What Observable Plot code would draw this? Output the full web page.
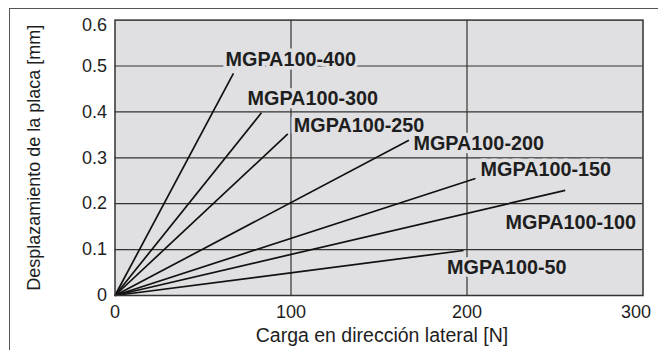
<!DOCTYPE html>
<html><head><meta charset="utf-8">
<script src="https://cdn.jsdelivr.net/npm/d3@7"></script>
<script src="https://cdn.jsdelivr.net/npm/@observablehq/plot@0.6"></script>
<style>
body{margin:0;background:#fff;}
#wrap{position:relative;width:658px;height:350px;overflow:hidden;font-family:"Liberation Sans",Arial,sans-serif;}
#wrap svg{position:absolute;left:0;top:0;}
#border{position:absolute;left:9px;top:8px;right:-2px;bottom:-2px;border-top:1.5px solid #555;border-left:1.5px solid #555;}
</style></head><body><div id="wrap"></div>
<script>
// Series (model), end point of each line (load N, displacement mm)
const series    = ["MGPA100-400","MGPA100-300","MGPA100-250","MGPA100-200","MGPA100-150","MGPA100-100","MGPA100-50"];
const endLoad   = [67.3, 83.2, 98.2, 167, 204.8, 255.8, 198];
const endDisp   = [0.484, 0.398, 0.352, 0.338, 0.255, 0.229, 0.098];
// Label anchor (left edge, middle) in data units
const labelLoad = [62.8, 75.3, 101.6, 169.6, 207.7, 221.9, 188.7];
const labelDisp = [0.513, 0.4286, 0.370, 0.330, 0.274, 0.1597, 0.0599];

const xTicks = [0, 100, 200, 300];
const xTickLabels = ["0", "100", "200", "300"];
const yTicks = [0, 0.1, 0.2, 0.3, 0.4, 0.5, 0.6];
const yTickLabels = ["0", "0.1", "0.2", "0.3", "0.4", "0.5", "0.6"];
const xGrid = [100, 200];
const yGrid = [0.1, 0.2, 0.3, 0.4, 0.5];
const xTitle = "Carga en dirección lateral [N]";
const yTitle = "Desplazamiento de la placa [mm]";

const rows = series.map((s, i) => ({s, x2: endLoad[i], y2: endDisp[i], lx: labelLoad[i], ly: labelDisp[i]}));
const xt = xTicks.map((v, i) => ({v, t: xTickLabels[i]}));
const yt = yTicks.map((v, i) => ({v, t: yTickLabels[i]}));

const bg = "#e0e0e2";
const ink = "#1e1e1e";
const font = "Liberation Sans, Arial, sans-serif";

const chart = Plot.plot({
  width: 658, height: 350,
  marginLeft: 114.5, marginRight: 15.5, marginTop: 19.6, marginBottom: 55,
  style: {background: "transparent", fontFamily: font, color: ink},
  x: {domain: [0, 300], axis: null},
  y: {domain: [0, 0.6], axis: null},
  marks: [
    Plot.frame({fill: bg, stroke: null}),
    Plot.ruleX(xGrid, {x: d => d, stroke: "#333", strokeWidth: 1.2}),
    Plot.ruleY(yGrid, {y: d => d, stroke: "#333", strokeWidth: 1.2}),
    Plot.link(rows, {x1: () => 0, y1: () => 0, x2: "x2", y2: "y2", stroke: "#111", strokeWidth: 1.7}),
    Plot.text(rows, {x: "lx", y: "ly", text: "s", textAnchor: "start", lineAnchor: "middle",
      fontSize: 19.8, fontWeight: "bold", fill: ink, stroke: bg, strokeWidth: 7, paintOrder: "stroke"}),
    Plot.frame({stroke: "#333", strokeWidth: 1.5}),
    // y tick labels
    Plot.text(yt.slice(0, -1), {y: "v", text: "t", frameAnchor: "left", textAnchor: "end", dx: -8, fontSize: 18, fill: ink}),
    Plot.text(yt.slice(-1), {y: "v", text: "t", frameAnchor: "left", textAnchor: "end", dx: -8, dy: 5, fontSize: 18, fill: ink}),
    // x tick labels
    Plot.text(xt.slice(0, -1), {x: "v", text: "t", frameAnchor: "bottom", lineAnchor: "middle", dy: 17, fontSize: 18, fill: ink}),
    Plot.text(xt.slice(-1), {x: "v", text: "t", frameAnchor: "bottom", lineAnchor: "middle", dy: 17, dx: -7, fontSize: 18, fill: ink}),
    // axis titles
    Plot.text([xTitle], {text: d => d, frameAnchor: "bottom", lineAnchor: "middle", dy: 40, dx: 3, fontSize: 19.5, fill: ink}),
    Plot.text([yTitle], {text: d => d, frameAnchor: "left", textAnchor: "middle", lineAnchor: "middle", rotate: -90, dx: -81, fontSize: 18, fill: ink})
  ]
});
const wrap = document.getElementById("wrap");
wrap.appendChild(chart);
const b = document.createElement("div");
b.id = "border";
wrap.appendChild(b);
</script>
</body></html>
